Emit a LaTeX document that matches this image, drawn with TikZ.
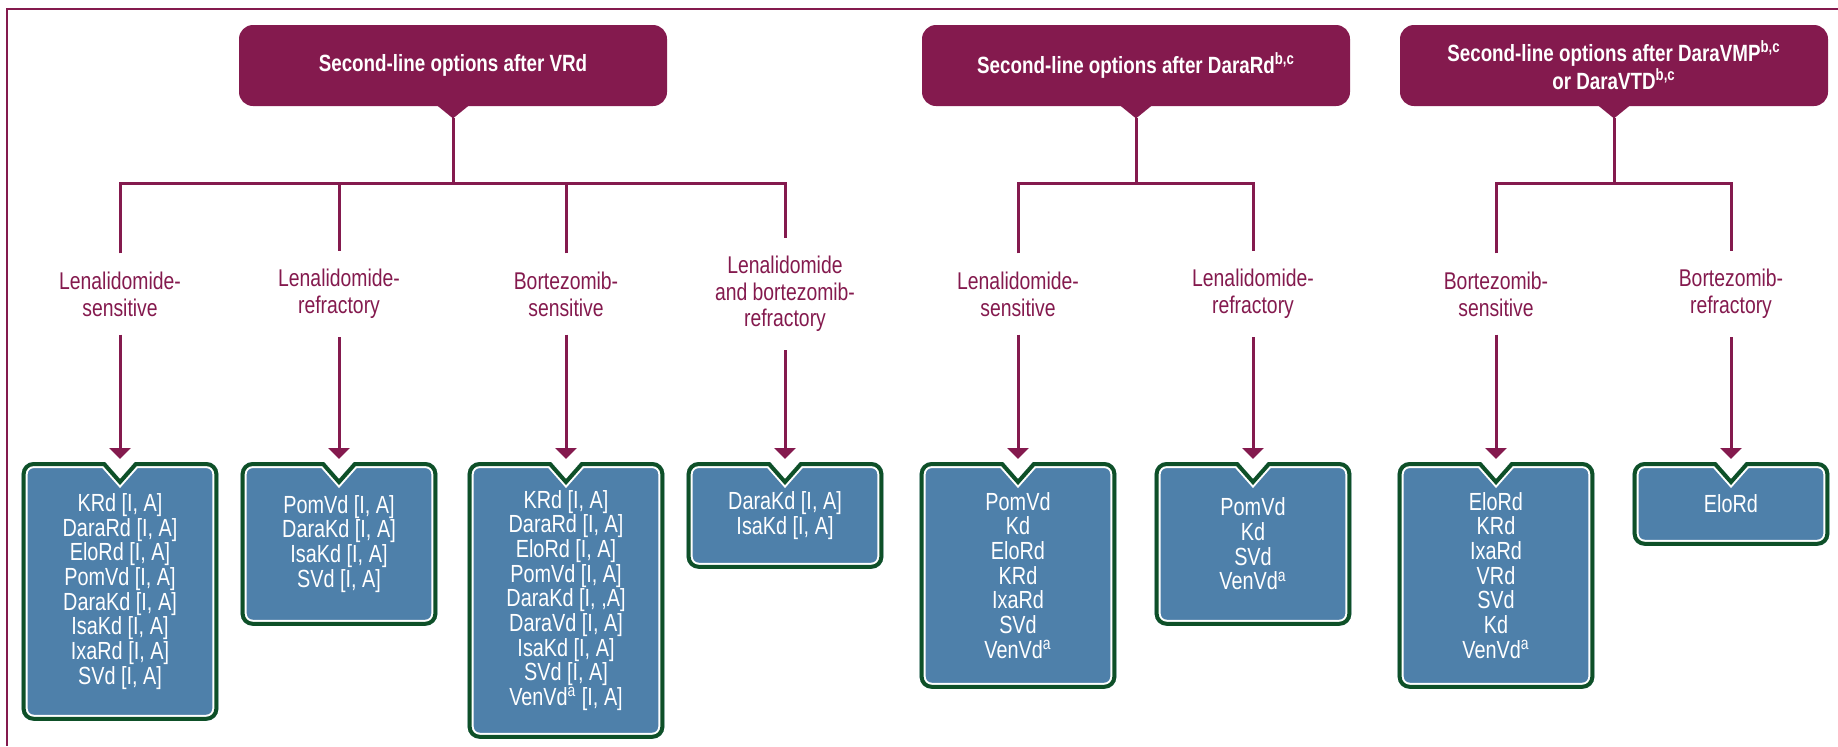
\documentclass[tikz,border=0pt]{standalone}
\usepackage{fontspec}
\setmainfont{Liberation Sans}[FakeStretch=0.8]
\usetikzlibrary{calc,arrows.meta,backgrounds}
\definecolor{plum}{RGB}{132,26,78}
\definecolor{steel}{RGB}{78,128,170}
\definecolor{pine}{RGB}{14,80,40}
\def\optfont{\fontsize{12.4}{12.35}\selectfont}
\def\labfont{\fontsize{12.1}{13.35}\selectfont}
\def\hdrfont{\fontsize{11.75}{14}\selectfont\bfseries}
\def\optlet#1{let \p1=(#1.north west), \p2=(#1.south east), \p3=(#1.north) in}
\def\optpath{({\x1+6pt},\y1) -- ({\x3-7.5pt},\y1) -- (\x3,{\y1-8.5pt}) -- ({\x3+7.5pt},\y1) -- ({\x2-6pt},\y1) arc[start angle=90,end angle=0,radius=6pt] -- (\x2,{\y2+6pt}) arc[start angle=0,end angle=-90,radius=6pt] -- ({\x1+6pt},\y2) arc[start angle=270,end angle=180,radius=6pt] -- (\x1,{\y1-6pt}) arc[start angle=180,end angle=90,radius=6pt] -- cycle}
\def\optshape#1{%
	\fill[steel] \optlet{#1} \optpath;
	\begin{scope}
		\clip \optlet{#1} \optpath;
		\draw[white, line width=6pt] \optlet{#1} \optpath;
		\draw[pine, line width=4pt] \optlet{#1} \optpath;
	\end{scope}}

\begin{document}
\begin{tikzpicture}[x=0.5pt, y=-0.5pt,
		hdr/.style={fill=plum, text=white, font=\hdrfont, align=center, rounded corners=7pt, minimum width=214pt, minimum height=40.5pt, inner sep=0pt},
		lab/.style={text=plum, font=\labfont, align=center, inner xsep=0pt, inner ysep=9pt},
		opt/.style={anchor=north, text=white, font=\optfont, align=center, minimum width=98pt, inner sep=0pt},
		link/.style={plum, line width=1.5pt},
		arr/.style={plum, line width=1.5pt, -{Triangle[width=10.5pt, length=5.5pt]}, shorten >=1.5pt}]
	%%%%% START %%%%%
	\useasboundingbox (0,0) rectangle (1838,746);
	
	% frame
	\draw[plum, line width=1.25pt] (1838,9) -- (7,9) -- (7,746);
	
	% headers
	\node[hdr] (h1) at (453,65.5) {Second-line options after VRd};
	\node[hdr] (h2) at (1136,65.5) {Second-line options after DaraRd\textsuperscript{b,c}};
	\node[hdr] (h3) at (1614,65.5) {Second-line options after DaraVMP\textsuperscript{b,c}\\or DaraVTD\textsuperscript{b,c}};
	\foreach \h in {1,2,3} {
		\fill[plum] ($(h\h.south)+(-16,-1)$) -- ($(h\h.south)+(0,12)$) -- ($(h\h.south)+(16,-1)$) -- cycle;
		\coordinate (p\h) at ($(h\h.south)+(0,12)$);
	}
	\coordinate (j1) at (453,183);
	\coordinate (j2) at (1136,183);
	\coordinate (j3) at (1614,183);
	
	% labels
	\node[lab] (l1) at (120,294) {Lenalidomide-\\sensitive};
	\node[lab] (l2) at (339,294) {Lenalidomide-\\refractory};
	\node[lab] (l3) at (566,294) {Bortezomib-\\sensitive};
	\node[lab] (l4) at (785,294) {Lenalidomide\\and bortezomib-\\refractory};
	\node[lab] (l5) at (1018,294) {Lenalidomide-\\sensitive};
	\node[lab] (l6) at (1253,294) {Lenalidomide-\\refractory};
	\node[lab] (l7) at (1496,294) {Bortezomib-\\sensitive};
	\node[lab] (l8) at (1731,294) {Bortezomib-\\refractory};
	
	% options
	\node[opt, minimum height=129pt] (k1) at (120,462) {KRd [I, A]\\DaraRd [I, A]\\EloRd [I, A]\\PomVd [I, A]\\DaraKd [I, A]\\IsaKd [I, A]\\IxaRd [I, A]\\SVd [I, A]};
	\node[opt, minimum height=81.5pt] (k2) at (339,462) {PomVd [I, A]\\DaraKd [I, A]\\IsaKd [I, A]\\SVd [I, A]};
	\node[opt, minimum height=138pt] (k3) at (566,462) {KRd [I, A]\\DaraRd [I, A]\\EloRd [I, A]\\PomVd [I, A]\\DaraKd [I, ,A]\\DaraVd [I, A]\\IsaKd [I, A]\\SVd [I, A]\\VenVd\textsuperscript{a} [I, A]};
	\node[opt, minimum height=53pt] (k4) at (785,462) {DaraKd [I, A]\\IsaKd [I, A]};
	\node[opt, minimum height=113pt] (k5) at (1018,462) {PomVd\\Kd\\EloRd\\KRd\\IxaRd\\SVd\\VenVd\textsuperscript{a}};
	\node[opt, minimum height=81.5pt] (k6) at (1253,462) {PomVd\\Kd\\SVd\\VenVd\textsuperscript{a}};
	\node[opt, minimum height=113pt] (k7) at (1496,462) {EloRd\\KRd\\IxaRd\\VRd\\SVd\\Kd\\VenVd\textsuperscript{a}};
	\node[opt, minimum height=41.5pt] (k8) at (1731,462) {EloRd};
	\begin{pgfonlayer}{background}
		\foreach \i in {1,...,8} {\optshape{k\i}}
	\end{pgfonlayer}
	
	% tree
	\draw[link] (p1) -- (j1);
	\draw[link] (p2) -- (j2);
	\draw[link] (p3) -- (j3);
	\draw[link] (l1.north) |- (j1) -| (l4.north);
	\draw[link] (l2.north) -- (l2.north |- j1);
	\draw[link] (l3.north) -- (l3.north |- j1);
	\draw[link] (l5.north) |- (j2) -| (l6.north);
	\draw[link] (l7.north) |- (j3) -| (l8.north);
	\foreach \i in {1,...,8} {\draw[arr] (l\i) -- (k\i);}
	
	%%%%% END %%%%%
\end{tikzpicture}
\end{document}
